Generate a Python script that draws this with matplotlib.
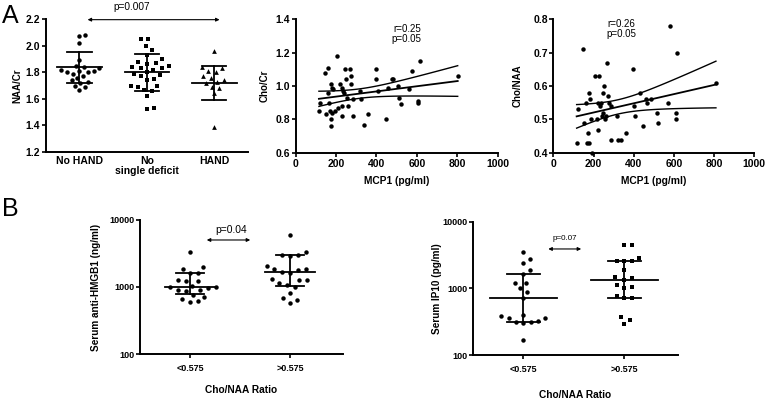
#%%
# NAA/Cr by group, MCP1 correlations, serum markers by Cho/NAA ratio
import numpy as np
import matplotlib
matplotlib.use('Agg')
import matplotlib.pyplot as plt

plt.rcParams['font.family'] = ['Liberation Sans', 'DejaVu Sans']
plt.rcParams['font.weight'] = 'bold'
plt.rcParams['axes.labelweight'] = 'bold'
plt.rcParams['axes.linewidth'] = 1.4


#%%
# panel A, left: NAA/Cr per group
groups_a1 = ['No HAND', 'No\nsingle deficit', 'HAND']
naa_no_hand = [2.08, 2.07, 2.02, 1.89, 1.85, 1.84, 1.83, 1.82, 1.81, 1.81, 1.80,
               1.80, 1.79, 1.77, 1.76, 1.74, 1.73, 1.72, 1.70, 1.69, 1.67]
naa_no_deficit = [2.05, 2.05, 2.00, 1.97, 1.93, 1.90, 1.88, 1.87, 1.86, 1.85, 1.84,
                  1.83, 1.83, 1.82, 1.80, 1.79, 1.78, 1.77, 1.75, 1.74, 1.70, 1.70,
                  1.69, 1.67, 1.66, 1.62, 1.53, 1.52]
naa_hand = [1.96, 1.84, 1.83, 1.81, 1.80, 1.77, 1.76, 1.74, 1.73, 1.72, 1.69, 1.68,
            1.64, 1.39]
naa_mean = [1.84, 1.80, 1.72]
naa_sd_lo = [1.72, 1.66, 1.59]
naa_sd_hi = [1.95, 1.94, 1.85]

# panel A, middle: MCP1 vs Cho/Cr
mcp_a2 = [115, 120, 144, 162, 150, 163, 158, 177, 180, 170, 180, 175, 177, 186,
          206, 195, 211, 219, 228, 236, 228, 231, 241, 244, 251, 252, 269, 274,
          274, 261, 282, 285, 318, 323, 338, 356, 398, 398, 406, 446, 475, 455,
          483, 508, 510, 520, 563, 574, 615, 607, 607, 802]
cho_cr = [0.85, 0.90, 1.08, 1.11, 0.83, 0.90, 0.96, 1.01, 0.99, 0.85, 0.84, 0.80,
          0.76, 0.98, 1.18, 0.85, 0.87, 1.01, 0.99, 0.97, 0.88, 0.82, 0.96, 1.10,
          1.04, 0.93, 1.10, 1.06, 1.01, 0.88, 0.82, 0.92, 0.97, 0.92, 0.77, 0.83,
          1.10, 1.04, 0.97, 0.80, 1.04, 0.99, 1.04, 1.00, 0.93, 0.89, 0.98, 1.09,
          1.15, 0.91, 0.90, 1.06]

# panel A, right: MCP1 vs Cho/NAA
mcp_a3 = [116, 121, 146, 153, 161, 169, 176, 171, 179, 182, 186, 192, 207, 227,
          216, 221, 224, 235, 232, 240, 245, 249, 252, 259, 262, 269, 274, 279,
          287, 285, 318, 323, 337, 360, 398, 401, 408, 431, 448, 461, 464, 484,
          514, 522, 569, 582, 610, 610, 617, 809]
cho_naa = [0.43, 0.53, 0.71, 0.49, 0.55, 0.43, 0.43, 0.46, 0.58, 0.56, 0.50, 0.40,
           0.63, 0.63, 0.50, 0.47, 0.55, 0.55, 0.54, 0.51, 0.52, 0.58, 0.60, 0.50,
           0.51, 0.67, 0.57, 0.55, 0.54, 0.44, 0.51, 0.44, 0.44, 0.46, 0.65, 0.54,
           0.51, 0.58, 0.48, 0.56, 0.55, 0.56, 0.52, 0.49, 0.55, 0.78, 0.52, 0.50,
           0.70, 0.61]

# panel B: serum markers split by Cho/NAA ratio
groups_b = ['<0.575', '>0.575']
hmgb1_low = [3370, 2010, 1860, 1640, 1620, 1260, 1240, 1220, 1020, 1000, 990, 970,
             910, 890, 860, 770, 720, 655, 610, 600]
hmgb1_high = [6000, 3300, 3050, 3000, 2950, 2050, 1880, 1860, 1800, 1660, 1640,
              1330, 1290, 1270, 1140, 1070, 990, 800, 680, 630, 570]
hmgb1_mid = [1000, 1700]
hmgb1_lo = [790, 1035]
hmgb1_hi = [1640, 2970]

ip10_low = [3500, 2800, 2450, 1900, 1650, 1230, 1200, 1000, 900, 720, 400, 380,
            365, 355, 320, 315, 310, 305, 170]
ip10_high = [4500, 4480, 2860, 2620, 2600, 2580, 1900, 1470, 1450, 1350, 1140,
             1070, 1030, 760, 725, 715, 370, 340, 290]
ip10_mid = [720, 1350]
ip10_lo = [310, 720]
ip10_hi = [1680, 2550]


#%%
def swarm_x(ax, x0, vals, d):
    # greedy beeswarm in pixel space
    pts = ax.transData.transform(np.column_stack([np.full(len(vals), x0), vals]))
    out = pts.copy()
    cands = [0.0]
    for k in range(1, 80):
        cands += [k * 0.5, -k * 0.5]
    placed = []
    for i in np.argsort(pts[:, 1]):
        y = pts[i, 1]
        for c in cands:
            x = pts[i, 0] + c
            if all((x - px) ** 2 + (y - py) ** 2 >= d * d for px, py in placed):
                break
        placed.append((x, y))
        out[i, 0] = x
    return ax.transData.inverted().transform(out)[:, 0]


def center_bars(ax, x, c, lo, hi, w, cw):
    ax.plot([x - w, x + w], [c, c], color='k', lw=1.3, zorder=3)
    ax.plot([x, x], [lo, hi], color='k', lw=1.3, zorder=3)
    ax.plot([x - cw, x + cw], [lo, lo], color='k', lw=1.3, zorder=3)
    ax.plot([x - cw, x + cw], [hi, hi], color='k', lw=1.3, zorder=3)


def fit_band(ax, x, y):
    x = np.asarray(x, float)
    y = np.asarray(y, float)
    b, a = np.polyfit(x, y, 1)
    xs = np.linspace(x.min(), x.max(), 100)
    yhat = a + b * xs
    n = len(x)
    s = np.sqrt(np.sum((y - (a + b * x)) ** 2) / (n - 2))
    sxx = np.sum((x - x.mean()) ** 2)
    se = s * np.sqrt(1.0 / n + (xs - x.mean()) ** 2 / sxx)
    ax.plot(xs, yhat, color='k', lw=1.3)
    ax.plot(xs, yhat + 2.0 * se, color='k', lw=1.0)
    ax.plot(xs, yhat - 2.0 * se, color='k', lw=1.0)


def style(ax, tick_size):
    ax.spines['top'].set_visible(False)
    ax.spines['right'].set_visible(False)
    ax.tick_params(direction='out', length=3, width=1.2, labelsize=tick_size, pad=1)
    ax.minorticks_off()


#%%
def plot_a1(fig):
    ax = fig.add_axes([0.0596, 0.6209, 0.2637, 0.3317])
    ax.set_xlim(-0.5, 2.5)
    ax.set_ylim(1.2, 2.2)
    ax.set_yticks([1.2, 1.4, 1.6, 1.8, 2.0, 2.2])
    ax.set_yticklabels(['1.2', '1.4', '1.6', '1.8', '2.0', '2.2'])
    ax.set_xticks([0, 1, 2])
    ax.set_xticklabels(groups_a1, fontsize=7.5, linespacing=0.95)
    style(ax, 7.5)
    ax.tick_params(axis='x', length=0, pad=3)
    ax.set_ylabel('NAA/Cr', fontsize=7)
    ax.yaxis.set_label_coords(-0.117, 0.5)

    sets = [(naa_no_hand, 'o', 3.2, 6.0), (naa_no_deficit, 's', 3.0, 7.0),
            (naa_hand, '^', 3.4, 7.0)]
    for i, (vals, mk, ms, d) in enumerate(sets):
        xs = swarm_x(ax, i, vals, d)
        ax.plot(xs, vals, mk, color='k', ms=ms, mew=0, linestyle='none', clip_on=False)
        center_bars(ax, i, naa_mean[i], naa_sd_lo[i], naa_sd_hi[i], 0.33, 0.18)

    ax.annotate('', xy=(2.12, 2.195), xytext=(0.08, 2.195),
                arrowprops=dict(arrowstyle='<|-|>', lw=0.8, color='k', mutation_scale=5),
                annotation_clip=False)
    ax.text(0.78, 2.29, 'p=0.007', fontsize=7.3, weight='normal', ha='center', va='center')


def plot_scatter_fit(fig, rect, x, y, ylim, yticks, ylabel, ylab_x, note_xy, note):
    ax = fig.add_axes(rect)
    ax.set_xlim(0, 1000)
    ax.set_ylim(*ylim)
    ax.set_xticks([0, 200, 400, 600, 800, 1000])
    ax.set_yticks(yticks)
    ax.set_yticklabels(['%.1f' % t for t in yticks])
    style(ax, 7.5)
    ax.plot(x, y, 'o', color='k', ms=3.2, mew=0, clip_on=False)
    fit_band(ax, x, y)
    ax.set_ylabel(ylabel, fontsize=7)
    ax.yaxis.set_label_coords(ylab_x, 0.5)
    ax.set_xlabel('MCP1 (pg/ml)', fontsize=7.4)
    ax.xaxis.set_label_coords(0.5, -0.17)
    ax.text(note_xy[0], note_xy[1], note, fontsize=7, weight='normal',
            ha='center', va='center', linespacing=1.05)


def plot_b(fig, rect, low, high, mid, lo, hi, markers, d, ylabel, ylab_x,
           xlab_y, w, cw, arrow, ptext):
    ax = fig.add_axes(rect)
    ax.set_yscale('log')
    ax.set_ylim(100, 10000)
    ax.set_xlim(-0.5, 1.53)
    ax.set_yticks([100, 1000, 10000])
    ax.set_yticklabels(['100', '1000', '10000'])
    ax.set_xticks([0, 1])
    ax.set_xticklabels(groups_b, fontsize=7.5)
    style(ax, 6.5)
    ax.tick_params(axis='x', pad=4)
    for i, vals in enumerate([low, high]):
        xs = swarm_x(ax, i, vals, d)
        ms = 3.2 if markers[i] == 'o' else 3.0
        ax.plot(xs, vals, markers[i], color='k', ms=ms, mew=0, linestyle='none')
        center_bars(ax, i, mid[i], lo[i], hi[i], w, cw)
    ax.set_ylabel(ylabel, fontsize=7.2)
    ax.yaxis.set_label_coords(ylab_x, 0.5)
    ax.set_xlabel('Cho/NAA Ratio', fontsize=7.3)
    ax.xaxis.set_label_coords(0.5, xlab_y)
    ax.annotate('', xy=(arrow[1], arrow[2]), xytext=(arrow[0], arrow[2]),
                arrowprops=dict(arrowstyle='<|-|>', lw=0.8, color='k', mutation_scale=5),
                annotation_clip=False)
    ax.text(ptext[0], ptext[1], ptext[2], fontsize=ptext[3], weight='normal',
            ha='center', va='center')


#%%
fig = plt.figure(figsize=(7.67, 4.01), dpi=100)

plot_a1(fig)
plot_scatter_fit(fig, [0.3855, 0.6185, 0.2634, 0.334], mcp_a2, cho_cr, (0.6, 1.4),
                 [0.6, 0.8, 1.0, 1.2, 1.4], 'Cho/Cr', -0.127, (550, 1.31),
                 'r=0.25\np=0.05')
plot_scatter_fit(fig, [0.7214, 0.6185, 0.2621, 0.334], mcp_a3, cho_naa, (0.4, 0.8),
                 [0.4, 0.5, 0.6, 0.7, 0.8], 'Cho/NAA', -0.151, (340, 0.77),
                 'r=0.26\np=0.05')
plot_b(fig, [0.1825, 0.1172, 0.2647, 0.3342], hmgb1_low, hmgb1_high, hmgb1_mid,
       hmgb1_lo, hmgb1_hi, ['o', 'o'], 8.0, 'Serum anti-HMGB1 (ng/ml)', -0.192,
       -0.231, 0.25, 0.14, (0.14, 0.63, 5030), (0.41, 7100, 'p=0.04', 7.4))
plot_b(fig, [0.6163, 0.1147, 0.2677, 0.3317], ip10_low, ip10_high, ip10_mid,
       ip10_lo, ip10_hi, ['o', 's'], 7.5, 'Serum IP10 (pg/ml)', -0.15,
       -0.263, 0.33, 0.165, (0.22, 0.60, 3930), (0.406, 5740, 'p=0.07', 5.8))

fig.text(0.002, 0.96, 'A', fontsize=18, weight='normal', va='center', ha='left')
fig.text(0.002, 0.479, 'B', fontsize=18, weight='normal', va='center', ha='left')

fig.savefig('out.png', dpi=100)
plt.close()
